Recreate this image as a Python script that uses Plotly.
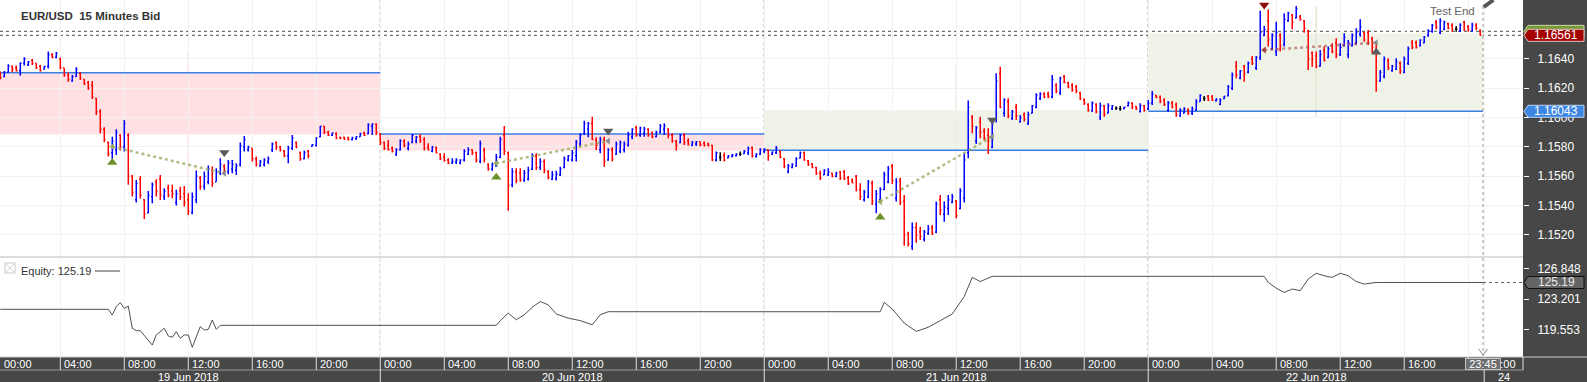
import plotly.graph_objects as go

# ---------------- data ----------------
# 15-minute bars; bar k starts at 19 Jun 2018 00:00 + k*15min (first bar k=1)
FIRST_BAR = 1
bar_open = [
 1.1631,1.1628,1.1631,1.1635,1.1634,1.1632,1.1637,1.1636,1.1639,1.1637,
 1.1635,1.1633,1.1635,1.1643,1.1641,1.1640,1.1634,1.1629,1.1625,1.1628,
 1.1630,1.1626,1.1624,1.1622,1.1613,1.1604,1.1592,1.1583,1.1576,1.1578,
 1.1588,1.1580,1.1588,1.1560,1.1544,1.1558,1.1544,1.1535,1.1546,1.1556,
 1.1558,1.1546,1.1552,1.1550,1.1542,1.1550,1.1548,1.1544,1.1535,1.1544,
 1.1559,1.1553,1.1556,1.1564,1.1556,1.1562,1.1567,1.1563,1.1565,1.1564,
 1.1568,1.1580,1.1578,1.1579,1.1572,1.1567,1.1568,1.1570,1.1578,1.1583,
 1.1580,1.1577,1.1574,1.1579,1.1583,
 1.1576,1.1572,1.1577,1.15805,1.1581,1.1587,1.1594,1.1590,1.1588,1.1589,
 1.15865,1.15865,1.1586,1.1585,1.15855,1.1587,1.15895,1.1589,1.1594,1.15955,
 1.1589,1.1583,1.1581,1.1579,1.1575,1.1578,1.1584,1.1579,1.1583,1.1584,
 1.1587,1.1585,1.1580,1.1577,1.15795,1.1575,1.1573,1.1571,1.1569,1.15695,
 1.1569,1.1571,1.1575,1.1578,1.1576,1.1570,1.1578,1.1568,1.1565,1.1567,
 1.1573,1.1588,1.1576,1.1554,1.1563,1.1562,1.1557,1.1558,1.1565,1.1574,
 1.1566,1.1570,1.1563,1.1558,1.15585,1.1561,1.1566,1.1571,1.1571,1.1574,
 1.1582,1.1589,1.1592,1.1596,1.15845,
 1.1578,1.1585,1.1571,1.1578,1.1575,1.1577,1.1578,1.1581,1.1587,1.1593,
 1.1588,1.1589,1.1592,1.1590,1.1587,1.1590,1.1592,1.1592,1.1588,1.1584,
 1.1583,1.1588,1.1584,1.1581,1.1582,1.15835,1.15825,1.1582,1.1581,1.1571,
 1.1573,1.1574,1.15725,1.15735,1.1574,1.1575,1.15755,1.1576,1.15795,1.15735,
 1.1575,1.1577,1.1578,1.1575,1.1576,1.1577,1.1572,1.1563,1.1566,1.1567,
 1.15725,1.1576,1.15705,1.15685,1.1566,1.1562,1.1561,1.1561,1.1562,1.1560,
 1.1563,1.1563,1.1559,1.1557,1.1560,1.1551,1.1544,1.1546,1.1555,1.1541,
 1.1544,1.1551,1.1556,1.1567,1.1545,
 1.1557,1.1543,1.1521,1.1512,1.1525,1.1522,1.1517,1.1521,1.1525,1.1522,
 1.1544,1.1534,1.1538,1.1542,1.1543,1.1538,1.1545,1.1576,1.1600,1.1584,
 1.1597,1.1591,1.1588,1.1580,1.1599,1.1630,1.1603,1.1611,1.15995,1.1607,
 1.1597,1.1602,1.1596,1.1603,1.1607,1.1613,1.1616,1.1616,1.1614,1.1622,
 1.1617,1.1628,1.1624,1.1622,1.1621,1.1617,1.1612,1.1609,1.16045,1.1609,
 1.1600,1.1608,1.1603,1.1606,1.16065,1.1606,1.1606,1.1608,1.1610,1.16075,
 1.1604,1.1608,1.1606,1.1610,1.1615,1.1614,1.1612,1.1605,1.1610,1.1609,
 1.1601,1.1603,1.1605,1.1603,1.1605,
 1.1611,1.1613,1.16145,1.1614,1.16115,1.1609,1.1613,1.1615,1.1620,1.1635,
 1.1627,1.1635,1.1631,1.1640,1.1634,1.1641,1.1656,1.1666,1.1647,1.1645,
 1.1656,1.1650,1.1666,1.1670,1.1668,1.1669,1.1666,1.1659,1.1644,1.1642,
 1.1635,1.1646,1.1641,1.1649,1.1651,1.1643,1.1649,1.1643,1.1649,1.1651,
 1.1657,1.1658,1.1658,1.1654,1.1651,1.1625,1.1628,1.1639,1.1632,1.1633,
 1.1637,1.1631,1.1637,1.1651,1.1651,1.1649,1.1651,1.1656,1.1659,1.1665,
 1.1658,1.1660,1.1664,1.1663,1.16605,1.1659,1.1665,1.1662,1.1659,1.1663,
 1.1659]
bar_high = [
 1.16314,1.16318,1.16364,1.16355,1.16355,1.16377,1.16411,1.16386,1.16400,1.16370,
 1.16359,1.16352,1.16450,1.16439,1.16448,1.16409,1.16336,1.16307,1.16291,1.16343,
 1.16309,1.16261,1.16250,1.16250,1.16136,1.16057,1.15934,1.15836,1.15870,1.15920,
 1.15886,1.15984,1.15893,1.15609,1.15575,1.15602,1.15443,1.15500,1.15557,1.15580,
 1.15609,1.15518,1.15541,1.15541,1.15507,1.15529,1.15534,1.15484,1.15489,1.15639,
 1.15602,1.15632,1.15673,1.15666,1.15655,1.15723,1.15682,1.15711,1.15711,1.15689,
 1.15830,1.15875,1.15807,1.15791,1.15734,1.15711,1.15723,1.15734,1.15830,1.15836,
 1.15807,1.15779,1.15807,1.15882,1.15836,
 1.15768,1.15775,1.15779,1.15820,1.15865,1.15943,1.15943,1.15911,1.15897,1.15900,
 1.15870,1.15870,1.15870,1.15870,1.15875,1.15897,1.15904,1.15961,1.15961,1.15961,
 1.15893,1.15836,1.15847,1.15802,1.15790,1.15852,1.15852,1.15836,1.15888,1.15875,
 1.15886,1.15865,1.15825,1.15806,1.15802,1.15756,1.15756,1.15722,1.15722,1.15722,
 1.15715,1.15784,1.15797,1.15784,1.15768,1.15843,1.15795,1.15688,1.15693,1.15752,
 1.15870,1.15943,1.15768,1.15654,1.15654,1.15654,1.15643,1.15665,1.15756,1.15756,
 1.15722,1.15715,1.15643,1.15636,1.15638,1.15665,1.15734,1.15745,1.15779,1.15847,
 1.15893,1.15979,1.15970,1.16006,1.15865,
 1.15870,1.15870,1.15790,1.15797,1.15836,1.15843,1.15836,1.15904,1.15927,1.15945,
 1.15938,1.15938,1.15927,1.15904,1.15911,1.15956,1.15961,1.15927,1.15893,1.15847,
 1.15888,1.15893,1.15859,1.15840,1.15840,1.15836,1.15836,1.15829,1.15813,1.15768,
 1.15763,1.15761,1.15745,1.15752,1.15756,1.15768,1.15779,1.15802,1.15802,1.15756,
 1.15790,1.15790,1.15784,1.15768,1.15806,1.15775,1.15722,1.15684,1.15688,1.15729,
 1.15768,1.15768,1.15711,1.15688,1.15665,1.15638,1.15647,1.15654,1.15624,1.15631,
 1.15636,1.15643,1.15602,1.15584,1.15609,1.15552,1.15506,1.15574,1.15570,1.15506,
 1.15524,1.15631,1.15670,1.15684,1.15586,
 1.15590,1.15472,1.15222,1.15284,1.15284,1.15256,1.15234,1.15268,1.15268,1.15427,
 1.15472,1.15427,1.15472,1.15479,1.15438,1.15518,1.15756,1.16116,1.16018,1.15943,
 1.16006,1.15927,1.15927,1.15972,1.16302,1.16347,1.16131,1.16131,1.16052,1.16093,
 1.16018,1.16034,1.16040,1.16086,1.16166,1.16172,1.16172,1.16177,1.16291,1.16234,
 1.16279,1.16291,1.16245,1.16234,1.16222,1.16177,1.16131,1.16097,1.16109,1.16097,
 1.16102,1.16086,1.16097,1.16086,1.16075,1.16079,1.16075,1.16109,1.16104,1.16079,
 1.16097,1.16086,1.16120,1.16181,1.16154,1.16150,1.16131,1.16113,1.16113,1.16102,
 1.16063,1.16070,1.16063,1.16075,1.16125,
 1.16159,1.16147,1.16154,1.16154,1.16131,1.16131,1.16147,1.16222,1.16307,1.16386,
 1.16325,1.16359,1.16382,1.16420,1.16420,1.16729,1.16625,1.16738,1.16575,1.16654,
 1.16575,1.16711,1.16722,1.16707,1.16761,1.16700,1.16666,1.16597,1.16450,1.16450,
 1.16461,1.16484,1.16484,1.16507,1.16541,1.16507,1.16575,1.16529,1.16575,1.16609,
 1.16670,1.16586,1.16597,1.16552,1.16518,1.16325,1.16416,1.16404,1.16359,1.16404,
 1.16382,1.16416,1.16484,1.16529,1.16525,1.16534,1.16557,1.16602,1.16638,1.16666,
 1.16677,1.16661,1.16647,1.16643,1.16625,1.16643,1.16661,1.16632,1.16647,1.16643,
 1.16602]
bar_low = [
 1.16261,1.16275,1.16307,1.16309,1.16314,1.16286,1.16355,1.16352,1.16359,1.16332,
 1.16314,1.16330,1.16334,1.16405,1.16405,1.16330,1.16279,1.16245,1.16245,1.16279,
 1.16257,1.16223,1.16189,1.16127,1.16018,1.15893,1.15832,1.15734,1.15716,1.15745,
 1.15775,1.15768,1.15541,1.15461,1.15420,1.15448,1.15309,1.15348,1.15416,1.15461,
 1.15438,1.15438,1.15457,1.15450,1.15400,1.15438,1.15393,1.15336,1.15341,1.15416,
 1.15507,1.15507,1.15545,1.15529,1.15564,1.15609,1.15609,1.15614,1.15620,1.15609,
 1.15666,1.15768,1.15768,1.15700,1.15666,1.15666,1.15666,1.15684,1.15766,1.15779,
 1.15768,1.15729,1.15689,1.15779,1.15791,
 1.15706,1.15715,1.15722,1.15802,1.15802,1.15865,1.15888,1.15875,1.15875,1.15852,
 1.15852,1.15847,1.15843,1.15843,1.15847,1.15870,1.15875,1.15886,1.15881,1.15881,
 1.15813,1.15779,1.15775,1.15761,1.15738,1.15775,1.15797,1.15775,1.15825,1.15825,
 1.15829,1.15775,1.15775,1.15763,1.15756,1.15711,1.15700,1.15684,1.15684,1.15684,
 1.15681,1.15700,1.15745,1.15745,1.15693,1.15688,1.15693,1.15638,1.15638,1.15665,
 1.15722,1.15745,1.15365,1.15524,1.15552,1.15563,1.15563,1.15570,1.15643,1.15643,
 1.15643,1.15620,1.15579,1.15574,1.15570,1.15602,1.15654,1.15700,1.15700,1.15700,
 1.15802,1.15881,1.15865,1.15847,1.15779,
 1.15756,1.15665,1.15706,1.15700,1.15745,1.15756,1.15761,1.15802,1.15852,1.15870,
 1.15870,1.15870,1.15870,1.15859,1.15865,1.15893,1.15881,1.15859,1.15829,1.15775,
 1.15825,1.15813,1.15809,1.15806,1.15806,1.15802,1.15802,1.15802,1.15704,1.15700,
 1.15704,1.15700,1.15722,1.15729,1.15734,1.15738,1.15752,1.15745,1.15727,1.15727,
 1.15745,1.15756,1.15706,1.15745,1.15752,1.15722,1.15654,1.15620,1.15654,1.15665,
 1.15722,1.15706,1.15670,1.15654,1.15609,1.15574,1.15609,1.15602,1.15593,1.15593,
 1.15574,1.15574,1.15540,1.15552,1.15495,1.15438,1.15427,1.15449,1.15404,1.15347,
 1.15427,1.15506,1.15552,1.15547,1.15427,
 1.15404,1.15125,1.15120,1.15097,1.15147,1.15165,1.15154,1.15199,1.15199,1.15211,
 1.15336,1.15290,1.15336,1.15415,1.15313,1.15375,1.15420,1.15722,1.15893,1.15820,
 1.15859,1.15847,1.15752,1.15790,1.15966,1.16063,1.16006,1.15995,1.15984,1.15984,
 1.15966,1.15973,1.15950,1.16029,1.16063,1.16120,1.16131,1.16131,1.16131,1.16166,
 1.16154,1.16234,1.16200,1.16177,1.16166,1.16120,1.16086,1.16040,1.16040,1.16029,
 1.15984,1.16006,1.16029,1.16052,1.16052,1.16047,1.16056,1.16075,1.16056,1.16052,
 1.16036,1.16040,1.16052,1.16086,1.16131,1.16097,1.16079,1.16040,1.16063,1.16006,
 1.16006,1.16029,1.16018,1.16018,1.16047,
 1.16109,1.16113,1.16113,1.16113,1.16109,1.16086,1.16125,1.16143,1.16188,1.16268,
 1.16261,1.16245,1.16302,1.16359,1.16325,1.16393,1.16557,1.16484,1.16461,1.16420,
 1.16450,1.16484,1.16654,1.16602,1.16677,1.16661,1.16579,1.16325,1.16347,1.16336,
 1.16347,1.16382,1.16404,1.16438,1.16404,1.16420,1.16484,1.16404,1.16484,1.16495,
 1.16552,1.16518,1.16495,1.16438,1.16177,1.16245,1.16268,1.16325,1.16313,1.16325,
 1.16297,1.16302,1.16359,1.16466,1.16472,1.16484,1.16507,1.16552,1.16579,1.16602,
 1.16568,1.16597,1.16602,1.16586,1.16586,1.16586,1.16593,1.16586,1.16586,1.16597,
 1.16560]
bar_close = [
 1.1627,1.1631,1.1635,1.1633,1.1632,1.1637,1.1640,1.1638,1.1637,1.1634,
 1.1632,1.1635,1.1643,1.1641,1.1644,1.1634,1.1629,1.1626,1.1628,1.1633,
 1.1627,1.1623,1.1620,1.1614,1.1604,1.1592,1.1585,1.1575,1.1584,1.1590,
 1.1580,1.1596,1.1560,1.1549,1.1555,1.1547,1.1534,1.1547,1.1554,1.1550,
 1.1547,1.1550,1.1547,1.1548,1.1548,1.1546,1.1542,1.1536,1.1546,1.1560,
 1.1553,1.1560,1.1565,1.1555,1.1563,1.1568,1.1563,1.1569,1.1568,1.1567,
 1.1581,1.1585,1.1580,1.1572,1.1568,1.1570,1.1571,1.1572,1.1582,1.1580,
 1.1578,1.1574,1.1579,1.1586,1.1580,
 1.1572,1.1576,1.1574,1.15815,1.1586,1.1594,1.1590,1.1588,1.15895,1.1586,
 1.1586,1.15855,1.1585,1.1586,1.1587,1.1589,1.1588,1.1595,1.15955,1.1590,
 1.1583,1.1579,1.1578,1.1577,1.1578,1.1584,1.1581,1.1582,1.1588,1.15865,
 1.1584,1.1579,1.1578,1.1580,1.1576,1.1572,1.15705,1.1569,1.1570,1.1571,
 1.1571,1.1577,1.1578,1.1576,1.1571,1.1582,1.1572,1.1565,1.1568,1.1573,
 1.1585,1.1577,1.1554,1.1563,1.1557,1.15575,1.1562,1.1564,1.1574,1.1566,
 1.1570,1.1564,1.1559,1.1561,1.15615,1.1565,1.1572,1.1574,1.1576,1.1583,
 1.1588,1.1596,1.1596,1.1585,1.1581,
 1.1585,1.1570,1.1578,1.1572,1.1582,1.1583,1.1582,1.1588,1.1592,1.1588,
 1.1593,1.1592,1.1588,1.1587,1.1590,1.1594,1.15945,1.1588,1.1584,1.1581,
 1.1588,1.1583,1.1582,1.1583,1.15835,1.15815,1.1581,1.1581,1.1571,1.1576,
 1.1573,1.1571,1.1574,1.15745,1.1575,1.1575,1.1577,1.1579,1.1574,1.1575,
 1.1578,1.15785,1.1574,1.15765,1.1579,1.1573,1.1567,1.1567,1.1568,1.1572,
 1.1576,1.1571,1.1568,1.1566,1.1562,1.1559,1.1564,1.1563,1.1560,1.1562,
 1.1559,1.15585,1.1555,1.15555,1.1551,1.1546,1.1549,1.1556,1.1543,1.1548,
 1.1551,1.1561,1.1565,1.1557,1.1556,
 1.1542,1.1520,1.1514,1.1525,1.1520,1.1519,1.1522,1.1524,1.1521,1.1541,
 1.1537,1.1539,1.1544,1.1546,1.1533,1.1550,1.1571,1.1607,1.1594,1.1593,
 1.1590,1.1586,1.1584,1.1596,1.1625,1.1607,1.1612,1.1601,1.1604,1.1601,
 1.1600,1.1599,1.1602,1.1608,1.1615,1.1616,1.1614,1.16145,1.1626,1.1618,
 1.1627,1.1624,1.1621,1.1619,1.1618,1.1613,1.1610,1.1605,1.1610,1.1604,
 1.1608,1.1602,1.1608,1.1608,1.16065,1.1606,1.1607,1.1610,1.1607,1.1606,
 1.1608,1.1605,1.1610,1.1616,1.1614,1.1611,1.1609,1.1610,1.1607,1.1602,
 1.1605,1.1606,1.1603,1.1606,1.1611,
 1.1615,1.1613,1.1612,1.1612,1.16125,1.1612,1.16145,1.1621,1.1629,1.1629,
 1.1632,1.1630,1.1637,1.1637,1.1641,1.1658,1.1660,1.1653,1.1656,1.1658,
 1.1649,1.1667,1.1671,1.1665,1.1674,1.1667,1.1661,1.1640,1.1640,1.1635,
 1.1643,1.1639,1.1647,1.1645,1.1643,1.1648,1.1655,1.1651,1.1656,1.1658,
 1.1662,1.1653,1.1651,1.1648,1.1625,1.1631,1.1640,1.1634,1.1635,1.1638,
 1.1632,1.1640,1.1647,1.1648,1.1648,1.1653,1.1655,1.1659,1.1663,1.1662,
 1.1666,1.1665,1.1661,1.1660,1.16605,1.1663,1.1660,1.1660,1.1663,1.1661,
 1.16561]

time_labels = ["00:00", "04:00", "08:00", "12:00", "16:00", "20:00"]
day_labels = ["19 Jun 2018", "20 Jun 2018", "21 Jun 2018", "22 Jun 2018", "24"]
day_start_bar = [0, 96, 192, 288, 372]
day_mid_bar = [48, 144, 240, 330]

prev_close_level = [1.16305, 1.15888, 1.15777, 1.16043]
day_close_level = [1.15884, 1.15776, 1.16048, 1.16573]

trade_entry_bar = [29, 125, 221, 317]
trade_exit_bar = [57, 153, 249, 345]
trade_entry_price = [1.15802, 1.15688, 1.15426, 1.16461]
trade_exit_price = [1.15620, 1.15840, 1.15870, 1.16511]
trade_is_long = [True, True, True, False]
entry_marker_price = [1.15694, 1.15593, 1.15320, 1.16768]
exit_marker_price = [1.15761, 1.15909, 1.15984, 1.16445]

equity_bar = [1, 28, 29, 30, 31, 32, 33, 34, 35, 36, 39, 40, 42, 43, 44, 45, 46, 47, 48, 49, 51, 52, 53, 54, 55, 56,
              125, 126, 128, 130, 132, 134, 136, 138, 140, 143, 146, 149, 151, 153,
              221, 222, 224, 227, 230, 233, 236, 239, 242, 244, 246, 249,
              317, 318, 320, 322, 324, 326, 328, 330, 332, 334, 336, 338, 340, 342, 345, 371.7]
equity_value = [121.96, 121.96, 121.27, 122.3, 122.76, 122.08, 122.36, 119.67, 119.39, 119.39, 117.66, 118.87, 119.67,
                118.75, 118.59, 119.27, 118.47, 118.87, 118.87, 117.39, 119.87, 119.47, 119.55, 120.67, 119.55, 120.03,
                120.03, 120.6, 121.5, 120.7, 121.3, 122.2, 122.9, 122.5, 121.4, 120.9, 120.6, 120.1, 121.3, 121.67,
                121.67, 122.8, 122.0, 120.3, 119.3, 119.8, 120.6, 121.4, 123.5, 125.8, 125.3, 125.93,
                125.93, 125.2, 124.5, 124.0, 124.4, 124.2, 125.6, 126.3, 126.0, 125.8, 126.3, 126.0, 125.3, 125.0,
                125.19, 125.19]
equity_last = 125.19
equity_ticks = [119.553, 123.201, 126.848]
price_ticks = [1.1520, 1.1540, 1.1560, 1.1580, 1.1600, 1.1620, 1.1640]
bid_price = 1.16561
ask_price = 1.16588
test_end_bar = 371.7
cursor_label = "23:45"

# ---------------- geometry / style ----------------
W, H = 1587, 382
ML, MR, MT, MB = 0, 64, 0, 25
PW, PH = W - ML - MR, H - MT - MB          # 1523 x 357
SPLIT_PX = 257                              # price pane bottom (px from top)
X_RANGE = [0.925, 381.7]
P_RANGE = [1.15049, 1.16802]
E_RANGE = [116.22, 128.256]
FONT = "Liberation Sans, Arial, sans-serif"
DARK = "#474747"

def pxx(px):
    return px / PW

def pxy(py):
    return (PH - py) / PH

p_per_px = (P_RANGE[1] - P_RANGE[0]) / SPLIT_PX
e_per_px = (E_RANGE[1] - E_RANGE[0]) / (PH - SPLIT_PX)

bars_x = list(range(FIRST_BAR, FIRST_BAR + len(bar_close)))
is_doji = [o == c for o, c in zip(bar_open, bar_close)]
nd = [i for i, d in enumerate(is_doji) if not d]
dj = [i for i, d in enumerate(is_doji) if d]

fig = go.Figure()

fig.add_trace(go.Ohlc(
    x=[bars_x[i] for i in nd], open=[bar_open[i] for i in nd], high=[bar_high[i] for i in nd],
    low=[bar_low[i] for i in nd], close=[bar_close[i] for i in nd],
    increasing=dict(line=dict(color="#0000ff", width=1.5)),
    decreasing=dict(line=dict(color="#ff0000", width=1.5)),
    tickwidth=0.3, hoverinfo="skip", showlegend=False, xaxis="x", yaxis="y"))
fig.add_trace(go.Ohlc(
    x=[bars_x[i] for i in dj], open=[bar_open[i] for i in dj], high=[bar_high[i] for i in dj],
    low=[bar_low[i] for i in dj], close=[bar_close[i] for i in dj],
    increasing=dict(line=dict(color="#000000", width=1.5)),
    decreasing=dict(line=dict(color="#000000", width=1.5)),
    tickwidth=0.3, hoverinfo="skip", showlegend=False, xaxis="x", yaxis="y"))

# trade lines and markers
for k in range(len(trade_entry_bar)):
    lc = "rgba(150,168,90,0.75)" if trade_is_long[k] else "rgba(175,70,70,0.6)"
    fig.add_trace(go.Scatter(
        x=[trade_entry_bar[k], trade_exit_bar[k]], y=[trade_entry_price[k], trade_exit_price[k]],
        mode="lines", line=dict(color=lc, width=2.5, dash="dot"),
        hoverinfo="skip", showlegend=False, xaxis="x", yaxis="y"))
    fig.add_trace(go.Scatter(
        x=[trade_entry_bar[k], trade_exit_bar[k]], y=[trade_entry_price[k], trade_exit_price[k]],
        mode="markers",
        marker=dict(symbol="triangle-left", size=6,
                    color=["#93a860" if trade_is_long[k] else "#a04040", "#8a8a8a"]),
        hoverinfo="skip", showlegend=False, xaxis="x", yaxis="y"))
    fig.add_trace(go.Scatter(
        x=[trade_entry_bar[k]], y=[entry_marker_price[k]], mode="markers",
        marker=dict(symbol="triangle-up" if trade_is_long[k] else "triangle-down", size=9,
                    color="#6f8f2a" if trade_is_long[k] else "#8b1010"),
        hoverinfo="skip", showlegend=False, xaxis="x", yaxis="y"))
    fig.add_trace(go.Scatter(
        x=[trade_exit_bar[k]], y=[exit_marker_price[k]], mode="markers",
        marker=dict(symbol="triangle-down" if trade_is_long[k] else "triangle-up", size=9, color="#5a5a5a"),
        hoverinfo="skip", showlegend=False, xaxis="x", yaxis="y"))

# equity
fig.add_trace(go.Scatter(x=equity_bar, y=equity_value, mode="lines",
                         line=dict(color="#505050", width=1), hoverinfo="skip",
                         showlegend=False, xaxis="x", yaxis="y2"))

shapes = []
annotations = []

# daily zones, previous-close lines, mid-day range lines
for d in range(4):
    x0 = max(day_start_bar[d], X_RANGE[0] - 1)
    x1 = test_end_bar if d == 3 else day_start_bar[d + 1]
    up = day_close_level[d] > prev_close_level[d]
    shapes.append(dict(type="rect", xref="x", yref="y", x0=x0, x1=x1,
                       y0=prev_close_level[d], y1=day_close_level[d],
                       fillcolor="#eff2e6" if up else "#ffe1e4", line=dict(width=0), layer="below"))
    shapes.append(dict(type="line", xref="x", yref="y", x0=x0, x1=x1,
                       y0=prev_close_level[d], y1=prev_close_level[d],
                       line=dict(color="#3a7de3", width=1.5), layer="between"))
    lo = max(day_start_bar[d] - FIRST_BAR, 0)
    hi = (day_start_bar[d + 1] if d < 3 else len(bar_close) + FIRST_BAR) - FIRST_BAR
    dh = max(bar_high[lo:hi])
    dl = min(bar_low[lo:hi])
    shapes.append(dict(type="line", xref="x", yref="y", x0=day_mid_bar[d], x1=day_mid_bar[d],
                       y0=dl, y1=dh, line=dict(color="#e2e8d4" if up else "#ffd3d8", width=1.5),
                       layer="below"))

# day separators (dotted)
for b in day_start_bar[1:4]:
    shapes.append(dict(type="line", xref="x", yref="paper", x0=b, x1=b, y0=0, y1=1,
                       line=dict(color="#555555", width=1, dash="dot"), layer="between"))

# bid / ask dotted lines
for pv in (ask_price, bid_price):
    shapes.append(dict(type="line", xref="paper", yref="y", x0=0, x1=1, y0=pv, y1=pv,
                       line=dict(color="#707070", width=1.2, dash="dot"), layer="between"))

# pane separator
shapes.append(dict(type="line", xref="paper", yref="paper", x0=0, x1=1,
                   y0=pxy(SPLIT_PX), y1=pxy(SPLIT_PX), line=dict(color="#dcdcdc", width=2)))

# test end line
shapes.append(dict(type="line", xref="x", yref="paper", x0=test_end_bar, x1=test_end_bar,
                   y0=0, y1=pxy(4), line=dict(color="#999999", width=1, dash="dot"), layer="above"))
shapes.append(dict(type="path", xref="x", yref="paper",
                   path=f"M {test_end_bar-1.1},{pxy(349)} L {test_end_bar},{pxy(355)} L {test_end_bar+1.1},{pxy(349)}",
                   line=dict(color="#8a8a8a", width=1)))
shapes.append(dict(type="line", xref="x", yref="paper", x0=test_end_bar + 0.2, x1=test_end_bar + 2.6,
                   y0=pxy(7), y1=pxy(0), line=dict(color="#555555", width=4)))

# equity dotted continuation
shapes.append(dict(type="line", xref="x", yref="y2", x0=test_end_bar, x1=X_RANGE[1],
                   y0=equity_last, y1=equity_last, line=dict(color="#606060", width=1, dash="dot")))

# right-axis value tags
def tag(yref, yval, per_px, fill, border):
    h = 6 * per_px
    xt, xl, xr = pxx(PW + 1), pxx(PW + 5), pxx(PW + 61)
    return dict(type="path", xref="paper", yref=yref,
                path=f"M {xt},{yval} L {xl},{yval+h} L {xr},{yval+h} L {xr},{yval-h} L {xl},{yval-h} Z",
                fillcolor=fill, line=dict(color=border, width=1), layer="above")

shapes.append(tag("y", ask_price, p_per_px, "#7a9a3a", "#c8d8a8"))
shapes.append(tag("y", bid_price, p_per_px, "#a40000", "#e0c0c0"))
shapes.append(tag("y", prev_close_level[3], p_per_px, "#3d86e3", "#b8d4f6"))
shapes.append(tag("y2", equity_last, e_per_px, "#646464", "#111111"))
for yref, val, txt, col in (("y", bid_price, f"{bid_price:.5f}", "white"),
                            ("y", prev_close_level[3], f"{prev_close_level[3]:.5f}", "white"),
                            ("y2", equity_last, f"{equity_last:.2f}", "#e8e8e8")):
    annotations.append(dict(xref="paper", yref=yref, x=pxx(PW + 33), y=val, text=txt,
                            xanchor="center", yanchor="middle", showarrow=False,
                            font=dict(family=FONT, size=12, color=col)))

# bottom time axis rows
ROW1 = -13 / PH
ROW2 = -25 / PH
shapes.append(dict(type="line", xref="paper", yref="paper", x0=0, x1=1 + MR / PW, y0=0, y1=0,
                   line=dict(color="#cfcfcf", width=1)))
shapes.append(dict(type="line", xref="paper", yref="paper", x0=0, x1=1, y0=ROW1, y1=ROW1,
                   line=dict(color="#9a9a9a", width=1)))
tick_pos = []
tick_txt = []
for d in range(4):
    for k, t in enumerate(time_labels):
        tick_pos.append(day_start_bar[d] + 16 * k)
        tick_txt.append(t)
tick_pos.append(day_start_bar[4])
tick_txt.append(time_labels[0])
for p, t in zip(tick_pos, tick_txt):
    shapes.append(dict(type="line", xref="x", yref="paper", x0=p, x1=p, y0=0, y1=ROW1,
                       line=dict(color="#e0e0e0", width=1)))
    if p < test_end_bar and test_end_bar - p < 8:
        continue  # fully hidden under the cursor box
    annotations.append(dict(xref="x", yref="paper", x=max(p, X_RANGE[0] + 0.05), y=ROW1 / 2, text=t,
                            xanchor="left", yanchor="middle", xshift=2, showarrow=False,
                            font=dict(family=FONT, size=11, color="white")))
shapes.append(dict(type="line", xref="paper", yref="paper", x0=1, x1=1, y0=0, y1=ROW1,
                   line=dict(color="#e0e0e0", width=1)))
for d in range(1, 5):
    shapes.append(dict(type="line", xref="x", yref="paper", x0=day_start_bar[d], x1=day_start_bar[d],
                       y0=ROW1, y1=ROW2 - 0.01, line=dict(color="#e0e0e0", width=1)))
for d in range(5):
    if d < 4:
        c = (day_start_bar[d] + day_start_bar[d + 1]) / 2
    else:
        c = (day_start_bar[4] + X_RANGE[1]) / 2
    annotations.append(dict(xref="x", yref="paper", x=c, y=(ROW1 + ROW2) / 2 - 0.004, text=day_labels[d],
                            showarrow=False, xanchor="center", yanchor="middle",
                            font=dict(family=FONT, size=11, color="white")))

# cursor box at test end (drawn over the time labels)
annotations.append(dict(xref="x", yref="paper", x=test_end_bar, y=pxy(PH + 6.8), text=cursor_label,
                        showarrow=False, xanchor="center", yanchor="middle", width=34, height=10, borderpad=0,
                        bgcolor="#6e6e6e", bordercolor="#c4c4c4", borderwidth=1,
                        font=dict(family=FONT, size=11, color="white")))

# title, test end, equity legend
annotations.append(dict(xref="paper", yref="paper", x=pxx(19), y=pxy(16.5), text="EUR/USD\u00a0 15 Minutes Bid",
                        xanchor="left", yanchor="middle", showarrow=False,
                        font=dict(family=FONT, size=11.5, color="#333333", weight="bold")))
annotations.append(dict(xref="x", yref="paper", x=test_end_bar - 1.5, y=pxy(11), text="Test End",
                        xanchor="right", yanchor="middle", showarrow=False,
                        font=dict(family=FONT, size=11.5, color="#666666")))
shapes.append(dict(type="rect", xref="paper", yref="paper", x0=pxx(5), x1=pxx(15), y0=pxy(273), y1=pxy(263),
                   line=dict(color="#c8c8c8", width=1), fillcolor="white"))
shapes.append(dict(type="path", xref="paper", yref="paper",
                   path=f"M {pxx(6)},{pxy(264)} L {pxx(14)},{pxy(272)} M {pxx(14)},{pxy(264)} L {pxx(6)},{pxy(272)}",
                   line=dict(color="#d4d4d4", width=1)))
annotations.append(dict(xref="paper", yref="paper", x=pxx(19), y=pxy(270.5), text=f"Equity: {equity_last:.2f}",
                        xanchor="left", yanchor="middle", showarrow=False,
                        font=dict(family=FONT, size=11, color="#333333")))
shapes.append(dict(type="line", xref="paper", yref="paper", x0=pxx(95), x1=pxx(120), y0=pxy(271), y1=pxy(271),
                   line=dict(color="#444444", width=1)))

fig.update_layout(
    width=W, height=H, margin=dict(l=ML, r=MR, t=MT, b=MB),
    paper_bgcolor=DARK, plot_bgcolor="white", showlegend=False,
    xaxis=dict(range=X_RANGE, anchor="y2", tickvals=tick_pos, showticklabels=False, ticks="",
               showgrid=True, gridcolor="#f2f2f2", gridwidth=1, zeroline=False, showline=False,
               rangeslider=dict(visible=False), fixedrange=True),
    yaxis=dict(domain=[pxy(SPLIT_PX), 1], range=P_RANGE, side="right", anchor="x",
               tickvals=price_ticks, ticktext=[f"{v:.4f}" for v in price_ticks],
               ticks="outside", ticklen=5, tickcolor="white", tickwidth=1, ticklabelstandoff=6,
               tickfont=dict(family=FONT, size=12, color="white"),
               showgrid=True, gridcolor="#f2f2f2", zeroline=False, showline=False, fixedrange=True),
    yaxis2=dict(domain=[0, pxy(SPLIT_PX)], range=E_RANGE, side="right", anchor="x",
                tickvals=equity_ticks, ticktext=[f"{v:.3f}" for v in equity_ticks],
                ticks="outside", ticklen=5, tickcolor="white", tickwidth=1, ticklabelstandoff=6,
                tickfont=dict(family=FONT, size=12, color="white"),
                showgrid=False, zeroline=False, showline=False, fixedrange=True),
    shapes=shapes, annotations=annotations,
)

fig.write_html("out.html", config={"displayModeBar": False},
               post_script="document.body.style.margin='0';document.body.style.overflow='hidden';")
